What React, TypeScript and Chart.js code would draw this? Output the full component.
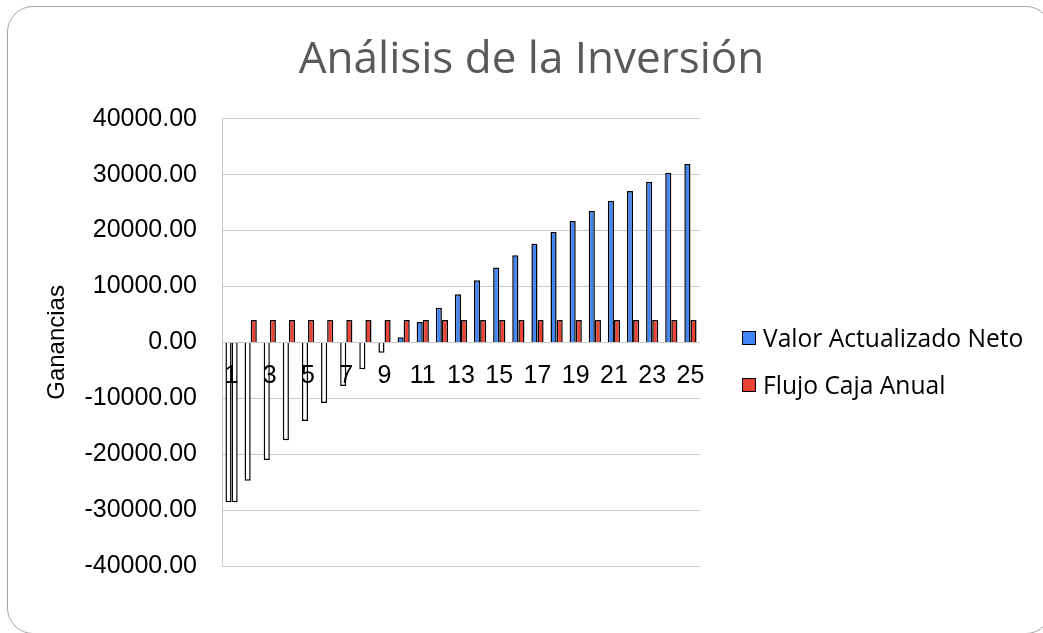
import React, { useEffect, useRef } from 'react';
import { Chart, registerables } from 'chart.js';

Chart.register(...registerables);

// Investment analysis: net present value vs. annual cash flow, years 1-25
const TITLE = 'Análisis de la Inversión';
const Y_TITLE = 'Ganancias';
const YEARS = ['1', '2', '3', '4', '5', '6', '7', '8', '9', '10', '11', '12', '13', '14', '15', '16', '17', '18', '19', '20', '21', '22', '23', '24', '25'];
const SERIES_NAMES = ['Valor Actualizado Neto', 'Flujo Caja Anual'];
const VAN_VALUES = [
  -28600, -24750, -21040, -17500, -14080, -10850, -7790, -4790, -1850, 900,
  3670, 6190, 8630, 11100, 13380, 15590, 17630, 19730, 21710, 23500,
  25360, 27100, 28720, 30340, 31900,
];
const FLUJO_VALUES = [
  -28600, 4000, 4000, 4000, 4000, 4000, 4000, 4000, 4000, 4000,
  4000, 4000, 4000, 4000, 4000, 4000, 4000, 4000, 4000, 4000,
  4000, 4000, 4000, 4000, 4000,
];
const Y_MIN = -40000;
const Y_MAX = 40000;
const Y_STEP = 10000;

const SERIES_COLORS = ['#4285F4', '#EA4335'];
const GRID = '#c9c9c9';
const W = 1043;
const H = 633;

const PAD_LEFT = 20;
const PLOT_LEFT = 222;
const PLOT_RIGHT = 700;

const TICK_FONT = { family: '"Liberation Sans", Arial, sans-serif', size: 25 };

// Negative values are drawn hollow (white fill), positives in the series colour
const fillFor = (color: string) => (ctx: any) =>
  typeof ctx.raw === 'number' && ctx.raw < 0 ? '#FFFFFF' : color;

function Legend() {
  return (
    <div
      style={{
        position: 'absolute',
        left: 742,
        top: 326,
        fontFamily: '"Open Sans", sans-serif',
        fontSize: 24.6,
        color: '#000000',
      }}
    >
      {SERIES_NAMES.map((name, i) => (
        <div
          key={name}
          style={{
            display: 'flex',
            alignItems: 'center',
            height: 24,
            marginBottom: 23,
            whiteSpace: 'nowrap',
          }}
        >
          <span
            style={{
              display: 'inline-block',
              width: 14,
              height: 14,
              boxSizing: 'border-box',
              border: '1.5px solid #000000',
              background: SERIES_COLORS[i],
              marginRight: 7,
            }}
          />
          <span style={{ lineHeight: '24px' }}>{name}</span>
        </div>
      ))}
    </div>
  );
}

export default function App() {
  const ref = useRef<HTMLCanvasElement>(null);

  useEffect(() => {
    if (!ref.current) return;
    const datasets = [VAN_VALUES, FLUJO_VALUES].map((values, i) => ({
      label: SERIES_NAMES[i],
      data: values,
      backgroundColor: fillFor(SERIES_COLORS[i]),
      borderColor: '#000000',
      borderWidth: 1.5,
      categoryPercentage: 0.64,
      barPercentage: 1,
    }));
    const chart = new Chart(ref.current, {
      type: 'bar',
      data: { labels: YEARS, datasets },
      options: {
        responsive: false,
        animation: false,
        layout: { padding: { left: PAD_LEFT, top: 0, right: 0, bottom: 67 } },
        plugins: {
          title: {
            display: true,
            text: TITLE,
            color: '#595959',
            font: { family: '"Open Sans", sans-serif', size: 44, weight: 'normal' },
            padding: { top: 34, bottom: 32 },
          },
          legend: { display: false },
          tooltip: { enabled: false },
        },
        scales: {
          x: {
            type: 'category',
            position: { y: 0 },
            grid: { display: false },
            border: { display: false },
            ticks: {
              z: 1,
              autoSkip: false,
              maxRotation: 0,
              minRotation: 0,
              padding: 11,
              color: '#000000',
              font: TICK_FONT,
              callback: (_v: any, i: number) => (i % 2 === 0 ? YEARS[i] : ''),
            },
            afterFit: (s: any) => {
              s.height = 0;
            },
          },
          y: {
            min: Y_MIN,
            max: Y_MAX,
            grid: { color: GRID, drawTicks: false, lineWidth: 1 },
            border: { display: true, color: GRID },
            ticks: {
              stepSize: Y_STEP,
              padding: 25,
              color: '#000000',
              font: TICK_FONT,
              callback: (v: any) => Number(v).toFixed(2),
            },
            title: {
              display: true,
              text: Y_TITLE,
              color: '#000000',
              font: { family: '"Liberation Sans", Arial, sans-serif', size: 24 },
              padding: { top: 23, bottom: 0 },
            },
            afterFit: (s: any) => {
              s.width = PLOT_LEFT - PAD_LEFT;
            },
          },
          // empty right-hand band that holds the legend area
          legendSpace: {
            axis: 'y',
            position: 'right',
            display: true,
            grid: { display: false },
            border: { display: false },
            ticks: { display: false },
            afterFit: (s: any) => {
              s.width = W - PLOT_RIGHT;
            },
          },
        },
      } as any,
    });
    return () => chart.destroy();
  }, []);

  return (
    <div
      style={{
        position: 'fixed',
        left: 0,
        top: 0,
        width: W,
        height: H,
        background: '#ffffff',
        overflow: 'hidden',
      }}
    >
      <div
        style={{
          position: 'absolute',
          left: 7,
          top: 6,
          width: 1045,
          height: 628,
          border: '1.5px solid #a6a6a6',
          borderRadius: 26,
          boxSizing: 'border-box',
        }}
      />
      <canvas
        ref={ref}
        width={W}
        height={H}
        style={{ position: 'absolute', left: 0, top: 0 }}
      />
      <Legend />
    </div>
  );
}
